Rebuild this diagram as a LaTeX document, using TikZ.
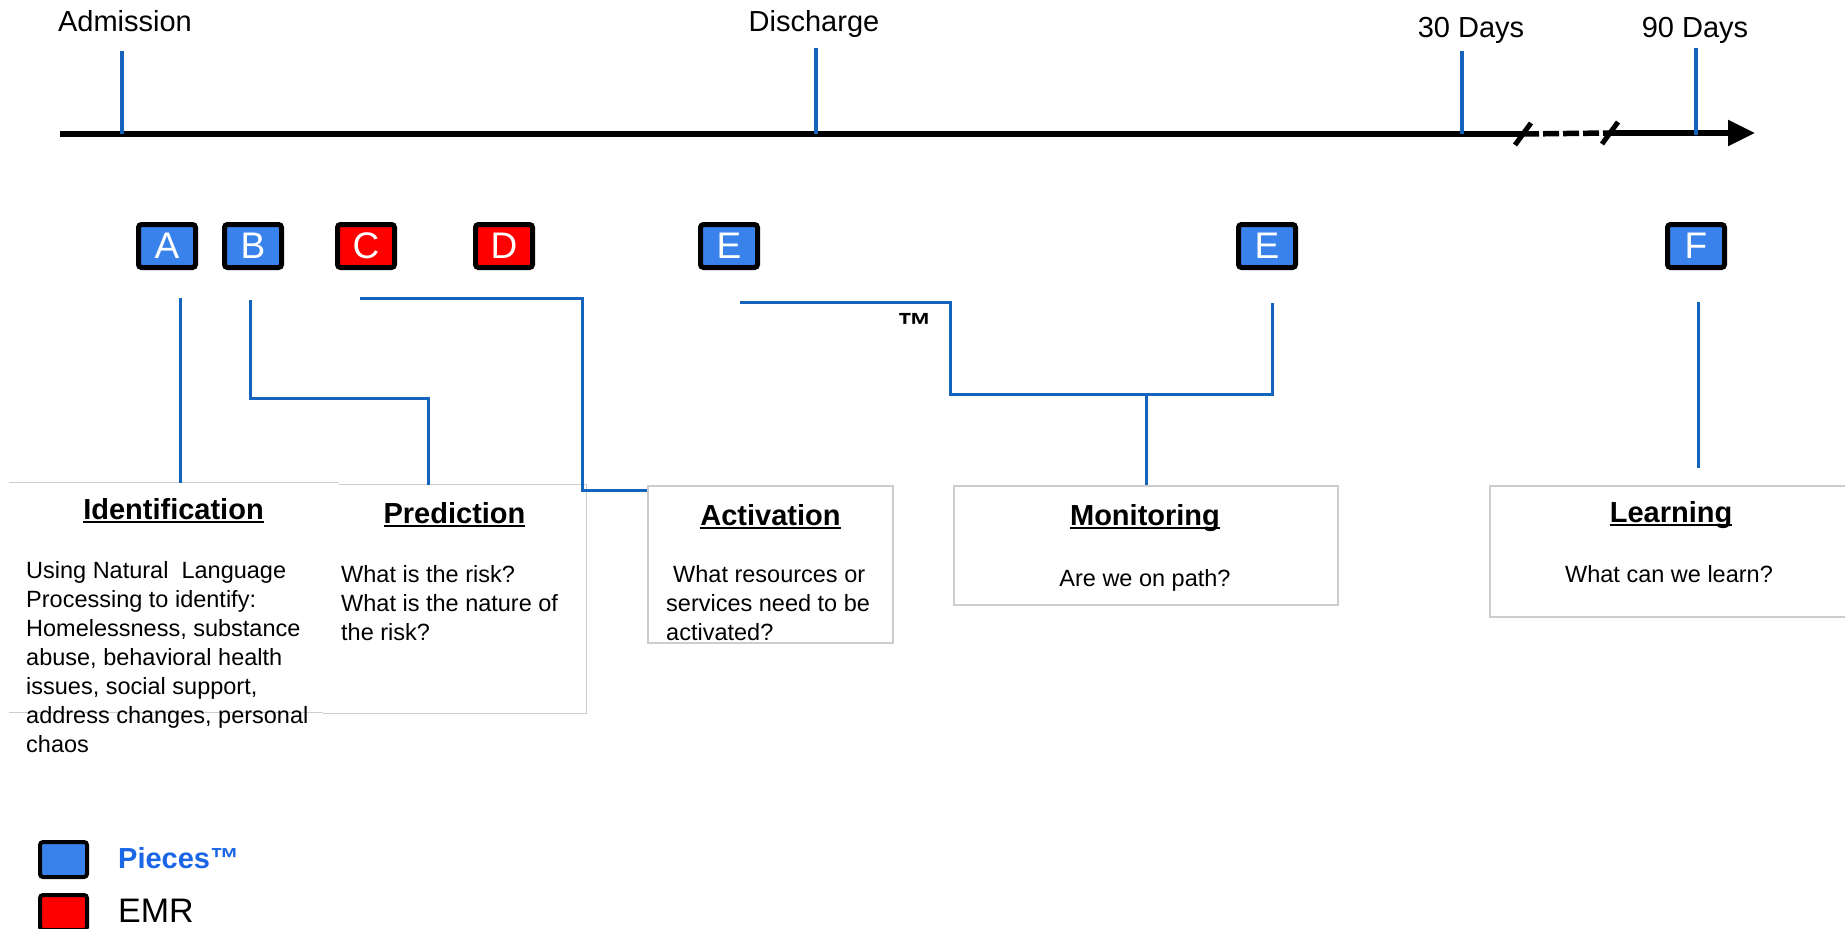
\documentclass[tikz,border=0pt]{standalone}
\usepackage{fontspec}
\setmainfont{Liberation Sans}
\usepackage{tikz}
\usetikzlibrary{arrows.meta}
\usepackage{color}
\definecolor{linkblue}{RGB}{20,100,190}
\definecolor{pieceblue}{RGB}{58,130,235}
\definecolor{piecetext}{RGB}{26,102,230}
\definecolor{emrred}{RGB}{255,0,0}
\definecolor{panelgray}{RGB}{205,205,205}
\newcommand{\hdul}[1]{\setbox0=\hbox{#1}\usebox0\kern-\wd0\rule[-4pt]{\wd0}{2pt}}

\begin{document}
\begin{tikzpicture}[x=1pt,y=1pt]
\tikzstyle{every node}+=[inner sep=0pt]
\tikzstyle{timeline}=[black,line width=5.5pt]
\tikzstyle{daytick}=[linkblue,line width=4.5pt]
\tikzstyle{link}=[linkblue,line width=3pt]
\tikzstyle{panel}=[draw=panelgray,line width=1.2pt]
\tikzstyle{piece}=[draw=black,line width=5pt,rounded corners=3pt,fill=pieceblue,text=white,minimum width=57pt,minimum height=43pt,font=\fontsize{37}{37}\selectfont]
\tikzstyle{emr}=[piece,fill=emrred]
\tikzstyle{daylabel}=[font=\fontsize{29}{34}\selectfont]
\tikzstyle{heading}=[font=\fontsize{29}{34}\selectfont\bfseries]
\tikzstyle{body}=[font=\fontsize{23.5}{29}\selectfont,align=left]

\fill[white] (0,0) rectangle (1845,-929);
\useasboundingbox (0,0) rectangle (1845,-929);

\coordinate (t0) at (60,-134);
\coordinate (brk1) at (1523,-134);
\coordinate (brk2) at (1610,-133);
\coordinate (tend) at (1755,-133);
\draw[timeline] (t0) -- (brk1);
\draw[timeline,dash pattern=on 16pt off 4pt] (brk1) -- (brk2);
\draw[timeline,-{Triangle[length=27pt,width=25pt]}] (brk2) -- (tend);
\draw[timeline,line width=5pt] ([shift={(-8,-11)}]brk1) -- ([shift={(8,11)}]brk1);
\draw[timeline,line width=5pt] ([shift={(-8,-11)}]brk2) -- ([shift={(8,11)}]brk2);

\node[daylabel,anchor=base] (adm) at (125,-31) {Admission};
\node[daylabel,anchor=base] (dis) at (814,-31) {Discharge};
\node[daylabel,anchor=base] (d30) at (1471,-37) {30 Days};
\node[daylabel,anchor=base] (d90) at (1695,-37) {90 Days};
\coordinate (k1) at (122,-51);
\coordinate (k2) at (816,-48);
\coordinate (k3) at (1462,-51);
\coordinate (k4) at (1696,-48);
\draw[daytick] (k1) -- (k1 |- t0);
\draw[daytick] (k2) -- (k2 |- t0);
\draw[daytick] (k3) -- (k3 |- t0);
\draw[daytick] (k4) -- ([yshift=-2pt]k4 |- tend);

\node[piece] (A) at (167,-246) {A};
\node[piece] (B) at (253,-246) {B};
\node[emr] (C) at (366,-246) {C};
\node[emr] (D) at (504,-246) {D};
\node[piece] (E1) at (729,-246) {E};
\node[piece] (E2) at (1267,-246) {E};
\node[piece] (F) at (1696,-246) {F};

\node[minimum width=330pt,minimum height=229pt] (ident) at (174,-597.5) {};
\node[minimum width=247pt,minimum height=228pt] (pred) at (462.5,-599) {};
\node[panel,minimum width=245pt,minimum height=157pt] (act) at (770.5,-564.5) {};
\node[panel,minimum width=384pt,minimum height=119pt] (mon) at (1146,-545.5) {};
\node[panel,minimum width=360pt,minimum height=131pt] (learn) at (1670,-551.5) {};
\draw[panel] (ident.north west) -- (ident.north east);
\draw[panel] (ident.south west) -- ([xshift=-16pt]ident.south east);
\draw[panel] (pred.north west) -- (pred.north east) -- (pred.south east) -- ([xshift=-16pt]pred.south west);

\node[heading,anchor=base] (identT) at (173.5,-519) {\hdul{Identification}};
\node[body,anchor=north west] (identB) at (26,-561) {Using Natural\ \ Language\\Processing to identify:\\Homelessness, substance\\abuse, behavioral health\\issues, social support,\\address changes, personal\\chaos};
\node[heading,anchor=base] (predT) at (454.5,-523) {\hdul{Prediction}};
\node[body,anchor=north west] (predB) at (341,-565) {What is the risk?\\What is the nature of\\the risk?};
\node[heading,anchor=base] (actT) at (770.5,-525) {\hdul{Activation}};
\node[body,anchor=north west] (actB) at (666,-565) {\hspace{7pt}What resources or\\services need to be\\activated?};
\node[heading,anchor=base] (monT) at (1145,-525) {\hdul{Monitoring}};
\node[body,anchor=base] (monB) at (1145,-586) {Are we on path?};
\node[heading,anchor=base] (learnT) at (1671,-522) {\hdul{Learning}};
\node[body,anchor=base] (learnB) at (1669,-582) {What can we learn?};
\node[font=\fontsize{35}{35}\selectfont\bfseries] (tm) at (915,-325) {™};

\coordinate (a1) at (180,-298);
\draw[link] (a1) -- (a1 |- ident.north);
\coordinate (b1) at (250,-300);
\coordinate (b2) at (428,-398);
\draw[link] (b1) |- (b2) -- (b2 |- pred.north);
\coordinate (c1) at (360,-298);
\coordinate (c2) at (582,-490);
\draw[link] (c1) -| (c2) -- (c2 -| act.west);
\coordinate (e1) at (740,-302);
\coordinate (m1) at (950,-394);
\coordinate (e2) at (1272,-303);
\draw[link] (e1) -| (m1) -| (e2);
\draw[link] (mon.north |- m1) -- (mon.north);
\coordinate (f1) at (1698,-302);
\coordinate (f2) at (1698,-468);
\draw[link] (f1) -- (f2);

\node[piece,line width=4pt,minimum width=47pt,minimum height=35pt] (keyP) at (63.5,-859.5) {};
\node[emr,line width=4pt,minimum width=47pt,minimum height=35pt] (keyE) at (63.5,-912.5) {};
\node[anchor=west,font=\fontsize{29}{34}\selectfont\bfseries,text=piecetext] (keyPT) at (118,-858) {Pieces™};
\node[anchor=west,font=\fontsize{34}{40}\selectfont] (keyET) at (118,-911) {EMR};
\end{tikzpicture}
\end{document}
